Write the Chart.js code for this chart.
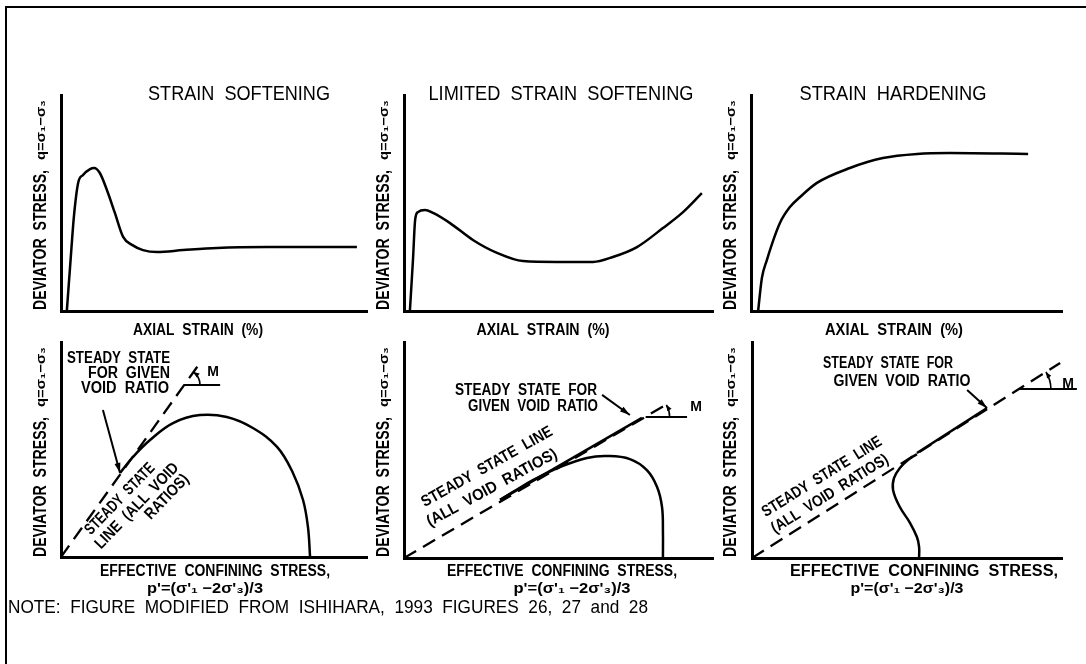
<!DOCTYPE html>
<html>
<head>
<meta charset="utf-8">
<title>Strain softening / limited softening / hardening</title>
<script src="https://cdn.jsdelivr.net/npm/chart.js@4.4.0/dist/chart.umd.min.js"></script>
<style>
  html, body { margin: 0; padding: 0; background: #fff; }
  #wrap { position: relative; width: 1086px; height: 664px; overflow: hidden; }
  #wrap canvas { position: absolute; left: 0; top: 0; }
  #frame { position: absolute; left: 5px; top: 6px; width: 1090px; height: 670px;
           border-top: 2px solid #000; border-left: 2px solid #000; }
</style>
</head>
<body>
<div id="wrap">
  <div id="frame"></div>
  <canvas id="tl" width="1086" height="664"></canvas>
  <canvas id="tm" width="1086" height="664"></canvas>
  <canvas id="tr" width="1086" height="664"></canvas>
  <canvas id="bl" width="1086" height="664"></canvas>
  <canvas id="bm" width="1086" height="664"></canvas>
  <canvas id="br" width="1086" height="664"></canvas>
</div>
<script>
// all values in relative units, 0-100 on both axes of each panel

// top row: axial strain vs deviator stress
const softStrain = [1.9, 3.3, 4.2, 5.6, 7.2, 9.5, 10.8, 12.7, 15.0, 17.6, 20.3, 23.2, 26.8, 31.4, 39.9, 51.0, 67.3, 96.7];
const softStress = [0, 26.9, 43.5, 59.3, 63.0, 65.7, 66.2, 63.9, 56.0, 45.4, 34.3, 30.6, 28.2, 27.3, 28.2, 29.2, 29.6, 29.6];

const limStrain = [1.9, 2.9, 3.6, 4.5, 6.8, 9.4, 14.9, 22.3, 30.1, 38.5, 49.5, 61.2, 67.6, 75.4, 83.8, 90.3, 96.4];
const limStress = [0, 23.6, 42.1, 45.8, 46.8, 45.4, 40.7, 32.9, 26.9, 23.1, 22.7, 22.7, 25.0, 29.6, 38.4, 45.8, 54.6];

const hardStrain = [2.3, 2.9, 3.5, 5.1, 9.3, 12.5, 15.8, 21.2, 31.8, 42.4, 53.4, 64.0, 89.1];
const hardStress = [0, 8.3, 15.3, 23.6, 40.7, 48.1, 52.8, 59.3, 66.2, 70.8, 72.7, 73.1, 72.7];

// bottom row: effective confining stress p' vs deviator stress q
const softSslP = [0, 45.4];
const softSslQ = [0, 90.2];
const softPathP = [81.4, 80.7, 79.1, 75.8, 70.6, 62.7, 54.2, 45.4, 36.6, 29.1, 23.5, 19.3];
const softPathQ = [0, 14.0, 26.5, 39.1, 51.2, 60.0, 65.1, 66.0, 62.3, 54.4, 46.5, 39.1];

const limSslP = [0, 84.5];
const limSslQ = [0, 70.7];
const limPathP = [83.8, 83.8, 83.5, 81.9, 78.6, 73.1, 65.7, 59.2, 50.5, 41.7, 35.3, 31.1];
const limPathQ = [0, 11.6, 23.6, 32.9, 40.7, 45.8, 47.2, 46.3, 42.1, 36.1, 30.6, 26.9];
const limFlowP = [31.1, 77.0];
const limFlowQ = [26.9, 64.9];

const hardSslP = [0, 99.4];
const hardSslQ = [0, 90.3];
const hardPathP = [53.9, 53.9, 53.2, 51.0, 47.7, 45.5, 45.8, 47.7, 50.3, 53.2];
const hardPathQ = [0, 5.1, 9.7, 16.2, 23.6, 31.5, 37.0, 41.7, 45.4, 48.1];
const hardFlowP = [53.2, 75.8];
const hardFlowQ = [48.6, 69.4];

// leader arrows [p from, q from, p to, q to]
const softArrow = [13.7, 68.4, 19.3, 39.1];
const limArrow = [64.1, 75.5, 73.1, 66.2];
const hardArrow = [69.4, 77.8, 75.8, 69.4];

// slope marker: horizontal reference [p start, p end, q]
const softSlope = [40.2, 52.0, 80.0];
const limSlope = [78.2, 91.6, 65.3];
const hardSlope = [86.1, 104.8, 78.2];

const FONT = "'Liberation Sans', Arial, sans-serif";
const W = 1086, H = 664;

function pts(xs, ys) {
  return xs.map((x, i) => ({ x: x, y: ys[i] }));
}

function curve(xs, ys, extra) {
  return Object.assign({ data: pts(xs, ys), showLine: true, borderColor: '#000',
    borderWidth: 2.5, pointRadius: 0, tension: 0.4 }, extra || {});
}

function dashed(xs, ys) {
  return curve(xs, ys, { borderDash: [14, 8], tension: 0, borderWidth: 2.3 });
}

function drawText(ctx, t) {
  ctx.save();
  ctx.font = (t.bold ? 'bold ' : '') + t.size + 'px ' + FONT;
  ctx.translate(t.x, t.y);
  if (t.rot) ctx.rotate(t.rot * Math.PI / 180);
  const m = ctx.measureText(t.text).width;
  if (t.w) ctx.scale(t.w / m, 1);
  ctx.textBaseline = 'middle';
  ctx.textAlign = t.align || 'center';
  ctx.fillStyle = '#000';
  ctx.fillText(t.text, 0, 0);
  ctx.restore();
}

function arrowHead(ctx, x1, y1, x2, y2, len, half) {
  const a = Math.atan2(y2 - y1, x2 - x1);
  ctx.beginPath();
  ctx.moveTo(x2, y2);
  ctx.lineTo(x2 - len * Math.cos(a) + half * Math.sin(a), y2 - len * Math.sin(a) - half * Math.cos(a));
  ctx.lineTo(x2 - len * Math.cos(a) - half * Math.sin(a), y2 - len * Math.sin(a) + half * Math.cos(a));
  ctx.closePath();
  ctx.fill();
}

// annotations: leader arrow, slope marker "M", texts
function notes(spec) {
  return {
    id: 'notes',
    afterDraw(chart) {
      const ctx = chart.ctx, sx = chart.scales.x, sy = chart.scales.y;
      ctx.save();
      ctx.strokeStyle = '#000';
      ctx.fillStyle = '#000';
      ctx.lineWidth = 2;
      if (spec.arrow) {
        const a = spec.arrow;
        const x1 = sx.getPixelForValue(a[0]), y1 = sy.getPixelForValue(a[1]);
        const x2 = sx.getPixelForValue(a[2]), y2 = sy.getPixelForValue(a[3]);
        ctx.beginPath();
        ctx.moveTo(x1, y1);
        ctx.lineTo(x2, y2);
        ctx.stroke();
        arrowHead(ctx, x1, y1, x2, y2, 10, 3);
      }
      if (spec.slope) {
        const s = spec.slope, ssl = spec.ssl;
        const cx = sx.getPixelForValue(s[0]), cy = sy.getPixelForValue(s[2]);
        const ex = sx.getPixelForValue(s[1]);
        ctx.beginPath();
        ctx.moveTo(cx, cy);
        ctx.lineTo(ex, cy);
        ctx.stroke();
        const th = Math.atan2(sy.getPixelForValue(0) - sy.getPixelForValue(ssl[1]),
                              sx.getPixelForValue(ssl[0]) - sx.getPixelForValue(0));
        const r = spec.radius;
        ctx.lineWidth = 1.6;
        ctx.beginPath();
        ctx.arc(cx, cy, r, -th, 0);
        ctx.stroke();
        const ax = cx + r * Math.cos(-th), ay = cy + r * Math.sin(-th);
        arrowHead(ctx, ax + 3 * Math.sin(th), ay + 3 * Math.cos(th), ax, ay, 6, 2.5);
      }
      (spec.texts || []).forEach(t => drawText(ctx, t));
      ctx.restore();
    }
  };
}

function panel(id, box, datasets, spec) {
  const axis = {
    type: 'linear', min: 0, max: 100,
    grid: { display: false, drawTicks: false },
    ticks: { display: false },
    border: { color: '#000', width: 3 }
  };
  return new Chart(document.getElementById(id), {
    type: 'scatter',
    data: { datasets: datasets },
    options: {
      responsive: false,
      animation: false,
      events: [],
      layout: { padding: { left: box[0], top: box[1], right: W - box[2], bottom: H - box[3] } },
      plugins: { legend: { display: false }, tooltip: { enabled: false } },
      scales: { x: Object.assign({}, axis), y: Object.assign({}, axis) }
    },
    plugins: [notes(spec)]
  });
}

function yLabel(x, yTop) {
  return [
    { text: 'DEVIATOR  STRESS,', x: x, y: yTop + 145, size: 18, bold: true, w: 140, rot: -90 },
    { text: 'q=σ₁−σ₃', x: x, y: yTop + 35, size: 13, bold: true, w: 60, rot: -90 }
  ];
}

function pLabel(x, y, w) {
  return { text: "p'=(σ'₁ −2σ'₃)/3", x: x, y: y, size: 15, bold: true, w: w };
}

const eff = 'EFFECTIVE  CONFINING  STRESS,';
const axial = 'AXIAL  STRAIN  (%)';

panel('tl', [61, 95, 367, 311], [curve(softStrain, softStress, { cubicInterpolationMode: 'monotone' })], {
  texts: [
    { text: 'STRAIN  SOFTENING', x: 239, y: 94, size: 20, w: 182 },
    { text: axial, x: 198, y: 331, size: 16, bold: true, w: 130 }
  ].concat(yLabel(41.5, 95))
});

panel('tm', [404, 95, 713, 311], [curve(limStrain, limStress, { cubicInterpolationMode: 'monotone' })], {
  texts: [
    { text: 'LIMITED  STRAIN  SOFTENING', x: 561, y: 94, size: 20, w: 265 },
    { text: axial, x: 543, y: 331, size: 16, bold: true, w: 133 }
  ].concat(yLabel(384.5, 95))
});

panel('tr', [751, 95, 1062, 311], [curve(hardStrain, hardStress, { cubicInterpolationMode: 'monotone' })], {
  texts: [
    { text: 'STRAIN  HARDENING', x: 893, y: 94, size: 20, w: 187 },
    { text: axial, x: 894, y: 331, size: 16, bold: true, w: 138 }
  ].concat(yLabel(731.5, 95))
});

panel('bl', [61, 342, 367, 557], [dashed(softSslP, softSslQ), curve(softPathP, softPathQ)], {
  arrow: softArrow, slope: softSlope, ssl: [softSslP[1], softSslQ[1]], radius: 16,
  texts: [
    { text: 'STEADY  STATE', x: 170, y: 359, size: 16, bold: true, w: 103, align: 'right' },
    { text: 'FOR  GIVEN', x: 170, y: 374, size: 16, bold: true, w: 82, align: 'right' },
    { text: 'VOID  RATIO', x: 169, y: 389, size: 16, bold: true, w: 88, align: 'right' },
    { text: 'STEADY  STATE', x: 120, y: 499, size: 16, bold: true, w: 93, rot: -46 },
    { text: 'LINE  (ALL  VOID', x: 137, y: 506, size: 16, bold: true, w: 113, rot: -46 },
    { text: 'RATIOS)', x: 167, y: 497, size: 16, bold: true, w: 56, rot: -46 },
    { text: 'M', x: 213, y: 372, size: 14, bold: true },
    { text: eff, x: 215, y: 572, size: 16, bold: true, w: 230 },
    pLabel(205, 589, 116),
    { text: 'NOTE:  FIGURE  MODIFIED  FROM  ISHIHARA,  1993  FIGURES  26,  27  and  28',
      x: 8, y: 608, size: 19, w: 640, align: 'left' }
  ].concat(yLabel(41.5, 342))
});

panel('bm', [404, 342, 713, 558], [dashed(limSslP, limSslQ), curve(limPathP, limPathQ), curve(limFlowP, limFlowQ, { tension: 0 })], {
  arrow: limArrow, slope: limSlope, ssl: [limSslP[1], limSslQ[1]], radius: 24,
  texts: [
    { text: 'STEADY  STATE  FOR', x: 526, y: 391, size: 16, bold: true, w: 142 },
    { text: 'GIVEN  VOID  RATIO', x: 533, y: 407, size: 16, bold: true, w: 130 },
    { text: 'STEADY  STATE  LINE', x: 487, y: 467, size: 16, bold: true, w: 148, rot: -29.5 },
    { text: '(ALL  VOID  RATIOS)', x: 492, y: 488, size: 16, bold: true, w: 146, rot: -28.5 },
    { text: 'M', x: 696, y: 407, size: 14, bold: true },
    { text: eff, x: 562, y: 572, size: 16, bold: true, w: 230 },
    pLabel(572, 589, 117)
  ].concat(yLabel(384.5, 342))
});

panel('br', [752, 342, 1062, 558], [dashed(hardSslP, hardSslQ), curve(hardPathP, hardPathQ), curve(hardFlowP, hardFlowQ, { tension: 0 })], {
  arrow: hardArrow, slope: hardSlope, ssl: [hardSslP[1], hardSslQ[1]], radius: 32,
  texts: [
    { text: 'STEADY  STATE  FOR', x: 888, y: 364, size: 16, bold: true, w: 130 },
    { text: 'GIVEN  VOID  RATIO', x: 902, y: 382, size: 16, bold: true, w: 137 },
    { text: 'STEADY  STATE  LINE', x: 822, y: 477, size: 16, bold: true, w: 138, rot: -32 },
    { text: '(ALL  VOID  RATIOS)', x: 830, y: 494, size: 16, bold: true, w: 135, rot: -32 },
    { text: 'M', x: 1068, y: 384, size: 14, bold: true },
    { text: eff, x: 924, y: 572, size: 16, bold: true, w: 268 },
    pLabel(907, 589, 113)
  ].concat(yLabel(731.5, 342))
});
</script>
</body>
</html>
